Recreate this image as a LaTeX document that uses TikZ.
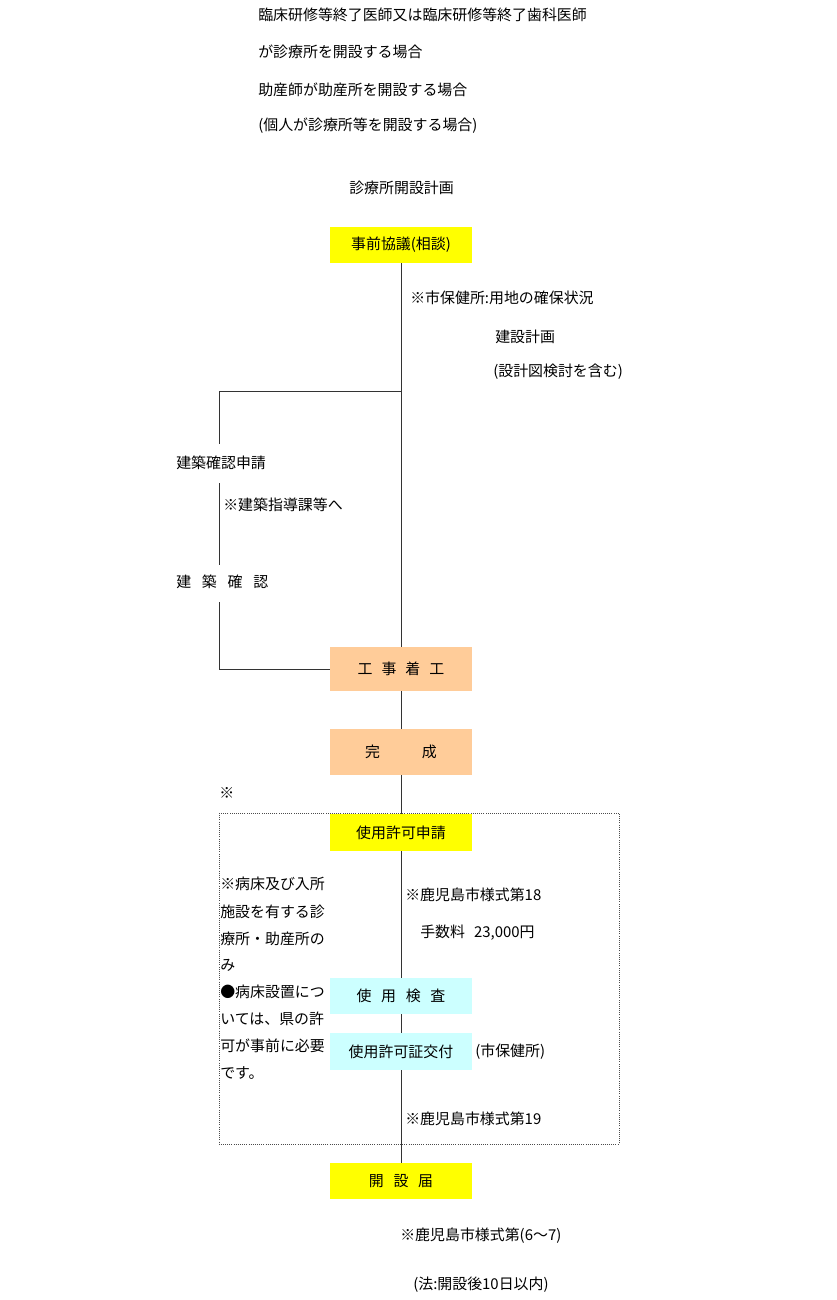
\documentclass[tikz,border=0pt]{standalone}
\usepackage{fontspec}
\setmainfont{Noto Sans CJK JP}
\definecolor{byellow}{HTML}{FFFF00}
\definecolor{bpeach}{HTML}{FFCC99}
\definecolor{bcyan}{HTML}{CCFFFF}
\begin{document}
\begin{tikzpicture}[x=0.75pt,y=-0.75pt,
  every node/.style={font=\fontsize{11.2}{13}\selectfont, inner sep=0pt},
  txt/.style={anchor=west},
  fbox/.style={minimum width=106.5pt, minimum height=27pt},
  ybox/.style={fbox, fill=byellow},
  pbox/.style={fbox, fill=bpeach},
  cbox/.style={fbox, fill=bcyan},
  conn/.style={draw=black!80, line width=0.75pt},
  dotbox/.style={draw=black!70, densely dotted, line width=0.6pt}]
\useasboundingbox (0,0) rectangle (837,1300);

% header texts
\node[txt] (h1) at (258,15) {臨床研修等終了医師又は臨床研修等終了歯科医師};
\node[txt] (h2) at (258,52) {が診療所を開設する場合};
\node[txt] (h3) at (258,90) {助産師が助産所を開設する場合};
\node[txt] (h4) at (258,126) {(個人が診療所等を開設する場合)};
\node[txt] (title) at (349,188) {診療所開設計画};

% dotted frame
\draw[dotbox] (219,813) rectangle (619,1144);

% boxes
\node[ybox] (b1) at (401,245) {事前協議(相談)};
\node[pbox, minimum height=33pt] (b2) at (401,669) {工\hspace{0.6em}事\hspace{0.6em}着\hspace{0.6em}工};
\node[pbox, minimum height=34.5pt] (b3) at (401,752) {完\hspace{2.8em}成};
\node[ybox, minimum height=27.75pt] (b4) at (401,832.5) {使用許可申請};
\node[cbox] (b5) at (401,996) {使\hspace{0.65em}用\hspace{0.65em}検\hspace{0.65em}査};
\node[cbox, minimum height=27.75pt] (b6) at (401,1051.5) {使用許可証交付};
\node[ybox] (b7) at (401,1181) {開\hspace{0.65em}設\hspace{0.65em}届};

% main flow connectors
\draw[conn] (b1.south) -- (b2.north);
\draw[conn] (b2.south) -- (b3.north);
\draw[conn] (b3.south) -- (b4.north);
\draw[conn] (b4.south) -- (b5.north);
\draw[conn] (b5.south) -- (b6.north);
\draw[conn] (b6.south) -- (b7.north);

% notes on the right
\node[txt] (n1) at (410,298) {※市保健所:用地の確保状況};
\node[txt] (n2) at (495,337) {建設計画};
\node[txt] (n3) at (493,372) {(設計図検討を含む)};

% branch for building confirmation
\coordinate (j1) at (401,391);
\coordinate (c1) at (219,391);
\node[txt] (k1) at (176,463) {建築確認申請};
\node[txt] (k2) at (223,505) {※建築指導課等へ};
\node[txt] (k3) at (176,582) {建\hspace{0.72em}築\hspace{0.72em}確\hspace{0.72em}認};
\coordinate (c2) at (219,444);
\coordinate (c3) at (219,483);
\coordinate (c4) at (219,565);
\coordinate (c5) at (219,602);
\coordinate (c6) at (219,669);
\draw[conn] (j1) -- (c1) -- (c2);
\draw[conn] (c3) -- (c4);
\draw[conn] (c5) -- (c6) -- (b2.west);

\node[txt] (mark) at (219,793) {※};

% left notes inside frame
\node[txt] (l1) at (220,884) {※病床及び入所};
\node[txt] (l2) at (220,912) {施設を有する診};
\node[txt] (l3) at (220,939) {療所・助産所の};
\node[txt] (l4) at (220,965) {み};
\node[txt] (l5) at (220,992) {●病床設置につ};
\node[txt] (l6) at (220,1019) {いては、県の許};
\node[txt] (l7) at (220,1046) {可が事前に必要};
\node[txt] (l8) at (220,1073) {です。};

% right notes inside frame
\node[txt] (r1) at (405,895) {※鹿児島市様式第18};
\node[txt] (r2) at (420,933) {手数料\hspace{0.6em}23,000円};
\node[txt] (r3) at (475,1052) {(市保健所)};
\node[txt] (r4) at (405,1119) {※鹿児島市様式第19};

% bottom notes
\node[txt] (f1) at (400,1236) {※鹿児島市様式第(6〜7)};
\node[txt] (f2) at (413,1285) {(法:開設後10日以内)};
\end{tikzpicture}
\end{document}
